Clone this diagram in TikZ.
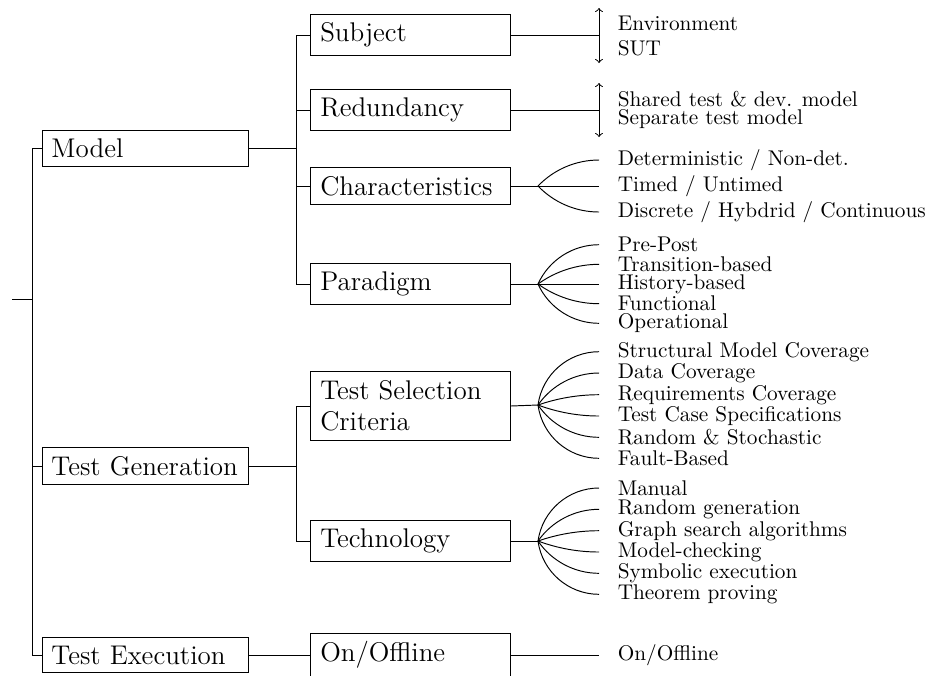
\documentclass[tikz,border=0pt]{standalone}
\usetikzlibrary{calc}
\begin{document}
\begin{tikzpicture}[x=0.47pt,y=-0.47pt,line width=0.45pt,
  topbox/.style={draw, rectangle, anchor=west, font=\fontsize{12.7}{14.8}\selectfont,
    inner xsep=4.2pt, inner ysep=4pt, text width=88.5pt, align=left},
  subbox/.style={draw, rectangle, anchor=west, font=\fontsize{12.7}{14.8}\selectfont,
    inner xsep=4.6pt, inner ysep=4pt, text width=84.6pt, align=left},
  leaf/.style={anchor=west, inner xsep=8.6pt, inner ysep=0pt, font=\normalsize},
  fan/.style={line width=0.45pt}]
\useasboundingbox (0,0) rectangle (928,675);
\clip (0,0) rectangle (928,675);

% first level
\coordinate (root) at (12,299);
\coordinate (trunk) at (32,299);
\node[topbox] (model) at (42,148) {Model};
\node[topbox] (tgen)  at (42,466) {Test Generation};
\node[topbox] (texec) at (42,655) {Test Execution};
\draw (root) -- (trunk);
\draw (model.west) -- (model.west -| trunk) |- (texec.west);
\draw (tgen.west) -- (tgen.west -| trunk);

% second level
\node[subbox] (subject) at (310,35)  {Subject};
\node[subbox] (redund)  at (310,110) {Redundancy};
\node[subbox] (charac)  at (310,186) {Characteristics};
\node[subbox] (parad)   at (310,284) {Paradigm};
\node[subbox] (tsc)     at (310,406) {Test Selection\\Criteria};
\node[subbox] (tech)    at (310,541) {Technology};
\node[subbox] (onoff)   at (310,655) {On/Offline};

\coordinate (mbus) at (296,148);
\coordinate (gbus) at (296,466);
\draw (model.east) -- (mbus);
\draw (subject.west) -- (subject.west -| mbus) |- (parad.west);
\draw (redund.west) -- (redund.west -| mbus);
\draw (charac.west) -- (charac.west -| mbus);
\draw (tgen.east) -- (gbus);
\draw (tsc.west) -- (tsc.west -| gbus) |- (tech.west);
\draw (texec.east) -- (onoff.west);

% leaves
\node[leaf] (su1) at (599,23)  {Environment};
\node[leaf] (su2) at (599,48)  {SUT};
\node[leaf] (re1) at (599,99)  {Shared test \& dev. model};
\node[leaf] (re2) at (599,119) {Separate test model};

\node[leaf] (ch1) at (599,160) {Deterministic / Non-det.};
\node[leaf] (ch2) at (599,186) {Timed / Untimed};
\node[leaf] (ch3) at (599,212) {Discrete / Hybdrid / Continuous};

\node[leaf] (pa1) at (599,244.7) {Pre-Post};
\node[leaf] (pa2) at (599,264.3) {Transition-based};
\node[leaf] (pa3) at (599,284)   {History-based};
\node[leaf] (pa4) at (599,303.7) {Functional};
\node[leaf] (pa5) at (599,323.3) {Operational};

\node[leaf] (ts1) at (599,351.7) {Structural Model Coverage};
\node[leaf] (ts2) at (599,373)   {Data Coverage};
\node[leaf] (ts3) at (599,394.7) {Requirements Coverage};
\node[leaf] (ts4) at (599,416)   {Test Case Specifications};
\node[leaf] (ts5) at (599,437.3) {Random \& Stochastic};
\node[leaf] (ts6) at (599,458.3) {Fault-Based};

\node[leaf] (te1) at (599,488)   {Manual};
\node[leaf] (te2) at (599,509.3) {Random generation};
\node[leaf] (te3) at (599,530.7) {Graph search algorithms};
\node[leaf] (te4) at (599,552)   {Model-checking};
\node[leaf] (te5) at (599,573.3) {Symbolic execution};
\node[leaf] (te6) at (599,594.3) {Theorem proving};

\node[leaf] (on1) at (599,655) {On/Offline};

% subject and redundancy: double-headed ranges
\coordinate (sj) at (599,35);
\coordinate (rj) at (599,110);
\draw (subject.east) -- (sj);
\draw[<->] ($(sj)+(0,-27)$) -- ($(sj)+(0,28)$);
\draw (redund.east) -- (rj);
\draw[<->] ($(rj)+(0,-27)$) -- ($(rj)+(0,27)$);

% fans: circular arcs from the branch point, arriving horizontally at each leaf
\coordinate (cbr) at (538,186);
\coordinate (pbr) at (538,284);
\coordinate (tbr) at (538,405);
\coordinate (hbr) at (538,541);
\draw (charac.east) -- (cbr);
\draw (parad.east) -- (pbr);
\draw (tsc.east) -- (tbr);
\draw (tech.east) -- (hbr);
\tikzset{fanarc/.style 2 args={insert path={
  let \p1=(#1), \p2=(#2.west),
      \n1={veclen(\x2-\x1,\y2-\y1)},
      \n2={2*atan2(\y2-\y1,\x2-\x1)},
      \n3={\n1/(3*cos(\n2/4)^2)}
  in (\p1) .. controls ($(\p1)+(\n2:\n3)$) and ($(\p2)-(\n3,0)$) .. (\p2)}}}
\foreach \leafname in {ch1,ch2,ch3}
  \draw[fan] [fanarc={cbr}{\leafname}];
\foreach \leafname in {pa1,pa2,pa3,pa4,pa5}
  \draw[fan] [fanarc={pbr}{\leafname}];
\foreach \leafname in {ts1,ts2,ts3,ts4,ts5,ts6}
  \draw[fan] [fanarc={tbr}{\leafname}];
\foreach \leafname in {te1,te2,te3,te4,te5,te6}
  \draw[fan] [fanarc={hbr}{\leafname}];
\draw (onoff.east) -- (on1.west);
\end{tikzpicture}
\end{document}
